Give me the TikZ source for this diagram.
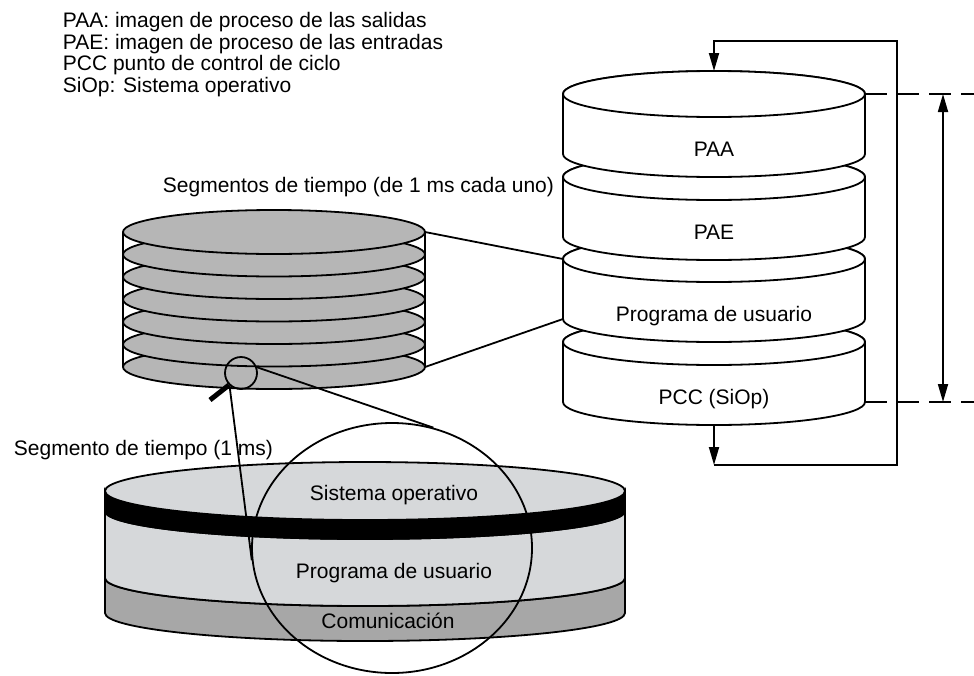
\documentclass[tikz,border=0pt]{standalone}
\usepackage{fontspec}
\setmainfont{Liberation Sans}
\usetikzlibrary{arrows.meta,shapes.geometric}

\definecolor{slot}{RGB}{182,182,182}
\definecolor{surface}{RGB}{214,216,218}
\definecolor{commband}{RGB}{167,167,167}

\begin{document}
\begin{tikzpicture}[
    x=1pt, y=1pt, line width=1.8pt,
    lbl/.style={font=\fontsize{21}{22}\selectfont, inner sep=0pt},
    key/.style={lbl, anchor=base west},
    slice/.style={draw, fill=slot},
    disk/.style={draw, fill=white},
    line/.style={-{Triangle[length=18pt, width=10pt]}},
    both/.style={{Triangle[length=18pt, width=10pt]}-{Triangle[length=18pt, width=10pt]}},
    gap/.style={dash pattern=on 22pt off 10pt}
  ]
    \useasboundingbox (0,0) rectangle (974,-675);

    \node[key] (paa def) at (62,-27) {PAA: imagen de proceso de las salidas};
    \node[key] (pae def) at (62,-49) {PAE: imagen de proceso de las entradas};
    \node[key] (pcc def) at (62,-70) {PCC punto de control de ciclo};
    \node[key] (siop def) at (62,-92) {SiOp: Sistema operativo};

    % cycle stack, drawn bottom up
    \foreach \t/\n/\txt in {342/pcc/PCC (SiOp), 259/usr/Programa de usuario, 177/pae/PAE, 94/paa/PAA} {
      \filldraw[disk] (563,-\t) -- (563,-\t-60)
        arc[start angle=180, end angle=360, x radius=151, y radius=23]
        -- (865,-\t) arc[start angle=0, end angle=180, x radius=151, y radius=23] -- cycle;
      \filldraw[disk] (714,-\t) ellipse[x radius=151, y radius=23];
      \node[lbl, anchor=base] (\n) at (714,-\t-62) {\txt};
    }

    % time slices
    \node[key] (slices) at (162,-192) {Segmentos de tiempo (de 1 ms cada uno)};
    \foreach \i in {6,...,0}
      \filldraw[slice] (274,-232-22.5*\i) ellipse[x radius=151, y radius=22];
    \draw (123,-232) -- (123,-367) (425,-232) -- (425,-367);

    \coordinate (seg tr) at (425,-232);
    \coordinate (seg br) at (425,-367);
    \coordinate (usr tl) at (563,-259);
    \coordinate (usr bl) at (563,-319);
    \draw (seg tr) -- (usr tl);
    \draw (seg br) -- (usr bl);

    % one slice, enlarged
    \node[key] (slice lbl) at (13,-455) {Segmento de tiempo (1 ms)};
    \filldraw[fill=commband] (105,-578) -- (105,-613)
      arc[start angle=180, end angle=360, x radius=260, y radius=28]
      -- (625,-578) arc[start angle=0, end angle=-180, x radius=260, y radius=28] -- cycle;
    \filldraw[fill=surface] (105,-511) -- (105,-578)
      arc[start angle=180, end angle=360, x radius=260, y radius=28]
      -- (625,-511) arc[start angle=0, end angle=-180, x radius=260, y radius=28] -- cycle;
    \filldraw[fill=black] (105,-491) -- (105,-511)
      arc[start angle=180, end angle=360, x radius=260, y radius=28]
      -- (625,-491) arc[start angle=0, end angle=-180, x radius=260, y radius=28] -- cycle;
    \filldraw[fill=surface] (365,-491) ellipse[x radius=260, y radius=29];

    \node[lbl, anchor=base] (os) at (394,-500) {Sistema operativo};
    \node[lbl, anchor=base] (user) at (394,-578) {Programa de usuario};
    \node[lbl, anchor=base] (comm) at (388,-628) {Comunicación};

    % magnifier
    \node[draw, circle, minimum size=32pt, inner sep=0pt] (lens) at (241,-373) {};
    \node[draw, ellipse, minimum width=280pt, minimum height=250pt, inner sep=0pt] (view) at (392,-548) {};
    \coordinate (grip) at (210,-400);
    \draw[line width=5pt] (lens.225) -- (grip);
    \draw (lens.227) -- (view.185);
    \draw (lens.20) -- (view.71);

    % cycle feedback and span
    \coordinate (stk top) at (714,-71);
    \coordinate (stk bot) at (714,-425);
    \coordinate (loop bl) at (714,-465);
    \coordinate (loop tr) at (897,-41);
    \draw[line] (stk bot) -- (loop bl);
    \draw[line] (loop bl) -| (loop tr) -| (stk top);

    \coordinate (paa r) at (865,-94);
    \coordinate (cut top) at (974,-94);
    \coordinate (pcc r) at (865,-402);
    \coordinate (cut bot) at (974,-402);
    \draw[gap] (paa r) -- (cut top);
    \draw[gap] (pcc r) -- (cut bot);
    \coordinate (span top) at (943,-94);
    \coordinate (span bot) at (943,-402);
    \draw[both] (span top) -- (span bot);
\end{tikzpicture}
\end{document}
